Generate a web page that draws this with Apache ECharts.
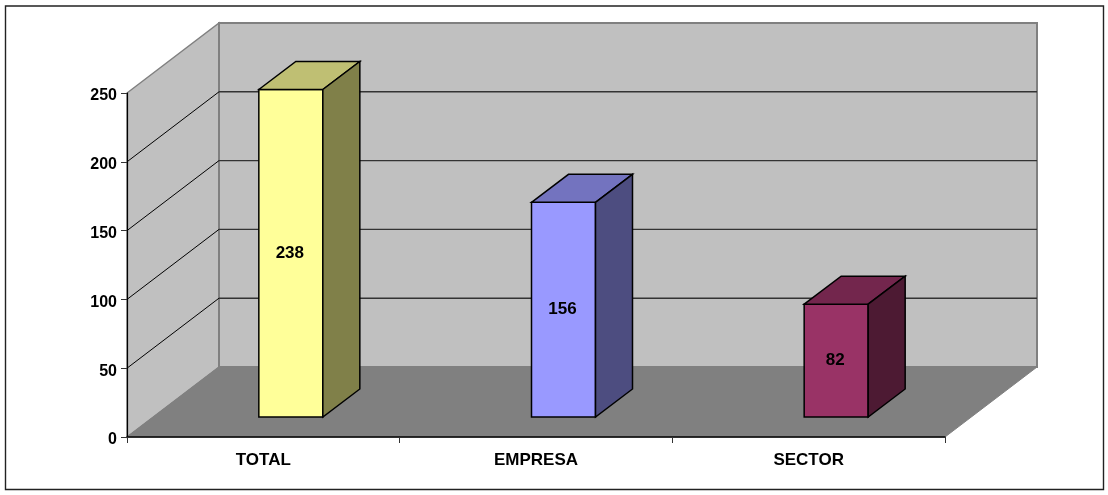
<!DOCTYPE html>
<html>
<head>
<meta charset="utf-8">
<style>html,body{margin:0;padding:0;background:#fff}#c{width:1108px;height:495px}</style>
<script src="https://cdn.jsdelivr.net/npm/echarts@6/dist/echarts.min.js"></script>
</head>
<body>
<div id="c"></div>
<script>
var categories = ['TOTAL', 'EMPRESA', 'SECTOR'];
var values = [238, 156, 82];
var yTicks = [0, 50, 100, 150, 200, 250];
var faceColors = ['#FFFF99', '#9999FF', '#993366'];
var topColors = ['#BFBF73', '#7373BF', '#73264D'];
var sideColors = ['#808049', '#4D4D80', '#4D1A33'];

var WALL_DX = 92, WALL_DY = 70;
var BAR_SHIFT_X = 27.5, BAR_SHIFT_Y = 20;
var BAR_HALF = 32, BAR_DX = 37, BAR_DY = 28;
var FONT = '"Liberation Sans", Arial, sans-serif';

var chart = echarts.init(document.getElementById('c'), null, {renderer: 'canvas'});

function poly(points, fill, stroke, w) {
  return {type: 'polygon', shape: {points: points},
    style: {fill: fill, stroke: stroke || null, lineWidth: w || 0, lineJoin: 'miter'}};
}
function line(a, b, stroke, w) {
  return {type: 'line', shape: {x1: a[0], y1: a[1], x2: b[0], y2: b[1]},
    style: {stroke: stroke, lineWidth: w}};
}

function renderWalls(params, api) {
  var c = params.coordSys;
  var L = c.x, R = c.x + c.width, T = c.y, B = c.y + c.height;
  var d = WALL_DX, e = WALL_DY;
  return {type: 'group', children: [
    poly([[L, B], [L, T], [L + d, T - e], [L + d, B - e]], '#C0C0C0', '#808080', 1.5),
    poly([[L + d, T - e], [R + d, T - e], [R + d, B - e], [L + d, B - e]], '#C0C0C0', '#808080', 2),
    poly([[L, B], [L + d, B - e], [R + d, B - e], [R, B]], '#808080', '#808080', 1)
  ]};
}

function renderGrid(params, api) {
  var v = api.value(0);
  if (v === 0 || v === yTicks[yTicks.length - 1]) return {type: 'group', children: []};
  var c = params.coordSys;
  var y = api.coord([0, v])[1];
  var L = c.x, R = c.x + c.width;
  return {type: 'group', children: [
    line([L, y], [L + WALL_DX, y - WALL_DY], '#000', 1),
    line([L + WALL_DX, y - WALL_DY], [R + WALL_DX, y - WALL_DY], '#333', 1.4)
  ]};
}

function renderBar(params, api) {
  var i = api.value(0), v = api.value(1);
  var top = api.coord([i, v]), base = api.coord([i, 0]);
  var cx = top[0] + BAR_SHIFT_X;
  var x0 = cx - BAR_HALF, x1 = cx + BAR_HALF;
  var yt = top[1] - BAR_SHIFT_Y, yb = base[1] - BAR_SHIFT_Y;
  var dx = BAR_DX, dy = BAR_DY;
  return {type: 'group', children: [
    poly([[x0, yt], [x1, yt], [x1, yb], [x0, yb]], faceColors[i], '#000', 1.5),
    poly([[x0, yt], [x0 + dx, yt - dy], [x1 + dx, yt - dy], [x1, yt]], topColors[i], '#000', 1.5),
    poly([[x1, yt], [x1 + dx, yt - dy], [x1 + dx, yb - dy], [x1, yb]], sideColors[i], '#000', 1.5),
    {type: 'text', x: cx - 1, y: (yt + yb) / 2, style: {
      text: String(v), fill: '#000', align: 'center', verticalAlign: 'middle',
      font: 'bold 17px ' + FONT}}
  ]};
}

chart.setOption({
  animation: false,
  backgroundColor: '#fff',
  graphic: [{type: 'rect', z: 0, shape: {x: 5.5, y: 6, width: 1098, height: 483.5},
    style: {fill: null, stroke: '#222', lineWidth: 1.4}}],
  grid: {left: 127, right: 163, top: 93, bottom: 58, containLabel: false},
  xAxis: {
    type: 'category', data: categories, z: 10,
    axisLine: {show: true, lineStyle: {color: '#000', width: 1.5}},
    axisTick: {show: true, alignWithLabel: false, length: 6, lineStyle: {color: '#333', width: 1}},
    axisLabel: {color: '#000', fontWeight: 'bold', fontSize: 17, fontFamily: FONT, margin: 15, interval: 0},
    splitLine: {show: false}
  },
  yAxis: {
    type: 'value', min: 0, max: 250, interval: 50, z: 10,
    axisLine: {show: true, onZero: false, lineStyle: {color: '#000', width: 1.2}},
    axisTick: {show: true, length: 6, lineStyle: {color: '#333', width: 1}},
    axisLabel: {color: '#000', fontWeight: 'bold', fontSize: 16, fontFamily: FONT, margin: 10, verticalAlign: 'top', lineHeight: 6},
    splitLine: {show: false}
  },
  series: [
    {type: 'custom', name: 'walls', z: 1, silent: true, clip: false, renderItem: renderWalls, data: [[0]]},
    {type: 'custom', name: 'grid', z: 2, silent: true, clip: false, renderItem: renderGrid,
      encode: {y: 0}, data: yTicks.map(function (t) { return [t]; })},
    {type: 'custom', name: 'bars', z: 3, clip: false, renderItem: renderBar,
      encode: {x: 0, y: 1}, data: values.map(function (v, i) { return [i, v]; })}
  ]
});
</script>
</body>
</html>
